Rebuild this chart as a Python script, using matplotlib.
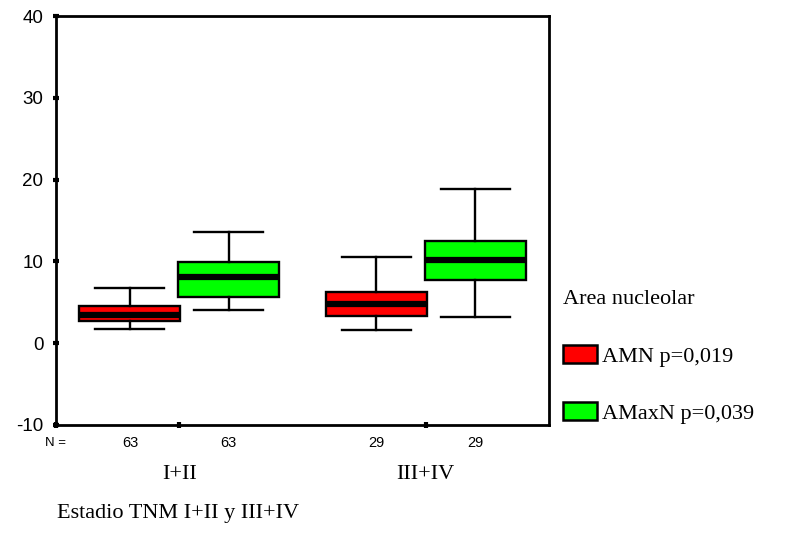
import matplotlib.pyplot as plt
from matplotlib.patches import Patch

# Datos
grupos = ['I+II', 'III+IV']
n_casos = [63, 63, 29, 29]
series = ['AMN p=0,019', 'AMaxN p=0,039']
colores = ['#ff0000', '#00ff00']

# estadisticos: whislo, q1, mediana, q3, whishi
amn = [(1.75, 2.7, 3.4, 4.5, 6.8), (1.6, 3.35, 4.75, 6.3, 10.5)]
amaxn = [(4.05, 5.65, 8.05, 9.95, 13.6), (3.15, 7.75, 10.15, 12.45, 18.8)]

plt.rcParams['font.family'] = ['Liberation Sans', 'DejaVu Sans']
plt.rcParams['axes.unicode_minus'] = False

fig = plt.figure(figsize=(7.95, 5.52), dpi=100)
ax = fig.add_axes([0.0704, 0.2301, 0.6202, 0.7409])

stats = []
pos = []
cols = []
for i in range(len(grupos)):
    for j, datos in enumerate([amn, amaxn]):
        lo, q1, med, q3, hi = datos[i]
        stats.append(dict(whislo=lo, q1=q1, med=med, q3=q3, whishi=hi, fliers=[]))
        pos.append(i + 1 + (j - 0.5) * 0.4)
        cols.append(colores[j])

bp = ax.bxp(stats, positions=pos, widths=0.41, patch_artist=True, showfliers=False,
            boxprops=dict(linewidth=1.7, edgecolor='black'),
            medianprops=dict(color='black', linewidth=4.5),
            whiskerprops=dict(color='black', linewidth=1.7),
            capprops=dict(color='black', linewidth=1.7), capwidths=0.28)
for box, c in zip(bp['boxes'], cols):
    box.set_facecolor(c)

ax.set_xlim(0.5, 2.5)
ax.set_ylim(-10, 40)
ax.set_yticks([-10, 0, 10, 20, 30, 40])
ax.set_xticks([0.5, 1, 2])
ax.set_xticklabels([])
ax.tick_params(axis='y', direction='inout', length=4, width=3, labelsize=13.5, pad=7)
ax.tick_params(axis='x', direction='inout', length=4, width=3)
for s in ax.spines.values():
    s.set_linewidth(2)

# N =
ax.text(0.5, -12.2, 'N =', ha='center', va='center', fontsize=9.5)
for p, n in zip(pos, n_casos):
    ax.text(p, -12.2, str(n), ha='center', va='center', fontsize=10.5)

serif = ['Liberation Serif', 'DejaVu Serif']
for i, g in enumerate(grupos):
    ax.text(i + 1, -16.1, g, ha='center', va='center', fontsize=16, family=serif)
fig.text(0.072, 0.069, 'Estadio TNM I+II y III+IV', ha='left', va='center',
         fontsize=16, family=serif)

handles = [Patch(facecolor=c, edgecolor='black', linewidth=1.8) for c in colores]
leg = fig.legend(handles, series, loc='upper left', bbox_to_anchor=(0.697, 0.491),
                 frameon=False, prop=dict(family=serif, size=16),
                 title='Area nucleolar', title_fontproperties=dict(family=serif, size=16),
                 handlelength=1.55, handleheight=0.85, handletextpad=0.2,
                 labelspacing=1.6, borderaxespad=0)
leg._legend_box.align = 'left'
leg._legend_box.sep = 26

fig.savefig('out.png', dpi=100)
